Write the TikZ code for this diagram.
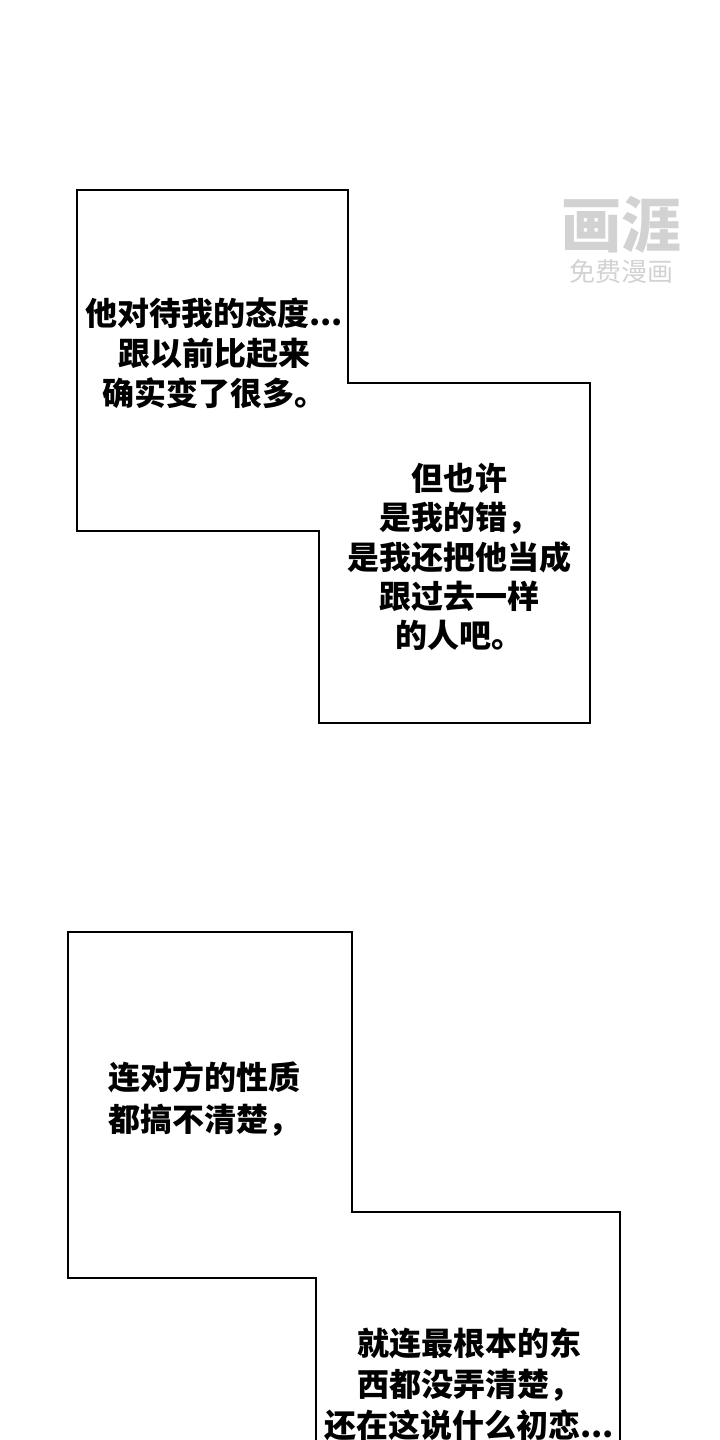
\documentclass[tikz,border=0pt]{standalone}
\usepackage{fontspec}
\usetikzlibrary{positioning}
\newfontfamily\cjk{Noto Sans CJK SC}
\colorlet{mygray}{gray!35}

\begin{document}
\begin{tikzpicture}[x=1pt,y=-1pt]
\useasboundingbox (0,0) rectangle (720,1440);
\clip (0,0) rectangle (720,1440);
\tikzset{PanelStyle/.style ={line width=2.6pt, line join=miter, color=black}}
\tikzset{NoteStyle/.style ={inner sep=0, align=center, text=black,
  font=\cjk\bfseries\fontsize{32}{40}\selectfont}}
% panels
\draw[PanelStyle] (77,190) -- (348,190) -- (348,383) -- (590,383) -- (590,723)
  -- (319,723) -- (319,531) -- (77,531) -- cycle;
\draw[PanelStyle] (316,1450) -- (316,1278) -- (68,1278) -- (68,932) -- (352,932)
  -- (352,1212) -- (620,1212) -- (620,1450);
% texts
\node[NoteStyle] (note1) at (214,353) {他对待我的态度...\\跟以前比起来\\确实变了很多。};
\node[NoteStyle,font=\cjk\bfseries\fontsize{32}{39.2}\selectfont] (note2) at (459,557) {但也许\\是我的错，\\是我还把他当成\\跟过去一样\\的人吧。};
\node[NoteStyle,align=left,anchor=west,font=\cjk\bfseries\fontsize{32}{42}\selectfont] (note3) at (108,1099) {连对方的性质\\都搞不清楚，};
\node[NoteStyle,font=\cjk\bfseries\fontsize{32}{41}\selectfont] (note4) at (469,1384) {就连最根本的东\\西都没弄清楚，\\还在这说什么初恋...};
% watermark
\node[inner sep=0,text=mygray] (logo) at (621,225) {\cjk\bfseries\fontsize{60}{60}\selectfont 画涯};
\node[inner sep=0,text=mygray,below=6pt of logo] (site) {\cjk\fontsize{26}{26}\selectfont 免费漫画};
\end{tikzpicture}
\end{document}
